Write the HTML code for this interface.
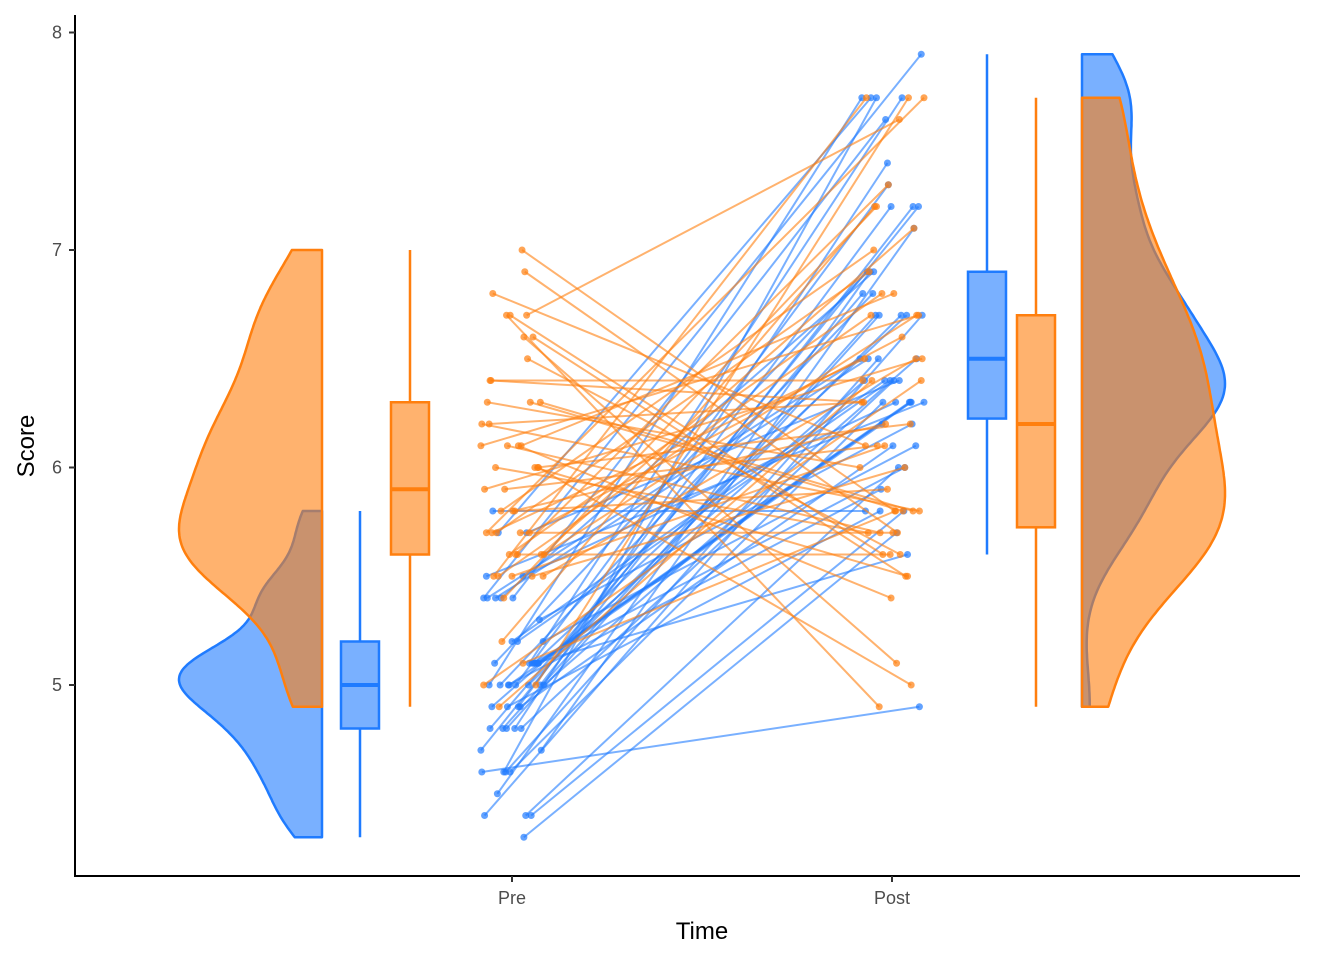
<!DOCTYPE html>
<html><head><meta charset="utf-8"><style>
html,body{margin:0;padding:0;background:#fff;}
svg{display:block;font-family:"Liberation Sans",Arial,sans-serif;}
</style></head><body>
<svg id="chart" width="1344" height="960" viewBox="0 0 1344 960">
<g id="plot"></g>
<line x1="75" y1="15" x2="75" y2="877" stroke="#000" stroke-width="2"/>
<line x1="74" y1="876" x2="1300" y2="876" stroke="#000" stroke-width="2"/>
<g id="axes"></g>
<text x="702" y="939" font-size="24" text-anchor="middle" fill="#000">Time</text>
<text transform="translate(34,446) rotate(-90)" font-size="24" text-anchor="middle" fill="#000">Score</text>
</svg>
<script>
const categories = ["Pre", "Post"];
const yTicks = [5, 6, 7, 8];
const bluePre = [5.1,4.9,4.7,4.6,5.0,5.4,4.6,5.0,4.4,4.9,5.4,4.8,4.8,4.3,5.8,5.7,5.4,5.1,5.7,5.1,5.4,5.1,4.6,5.1,4.8,5.0,5.0,5.2,5.2,4.7,4.8,5.4,5.2,5.5,4.9,5.0,5.5,4.9,4.4,5.1,5.0,4.5,4.4,5.0,5.1,4.8,5.1,4.6,5.3,5.0];
const bluePost = [6.3,5.8,7.1,6.3,6.5,7.6,4.9,7.3,6.7,7.2,6.5,6.4,6.8,5.7,5.8,6.4,6.5,7.7,7.7,6.0,6.9,5.6,7.7,6.3,6.7,7.2,6.2,6.1,6.4,7.2,7.4,7.9,6.4,6.3,6.1,7.7,6.3,6.4,6.0,6.9,6.7,6.9,5.8,6.8,6.7,6.7,6.3,6.5,6.2,5.9];
const orangePre = [7.0,6.4,6.9,5.5,6.5,5.7,6.3,4.9,6.6,5.2,5.0,5.9,6.0,6.1,5.6,6.7,5.6,5.8,6.2,5.6,5.9,6.1,6.3,6.1,6.4,6.6,6.8,6.7,6.0,5.7,5.5,5.5,5.8,6.0,5.4,6.0,6.7,6.3,5.6,5.5,5.5,6.1,5.8,5.0,5.6,5.7,5.7,6.2,5.1,5.7];
const orangePost = [5.8,6.3,5.7,7.7,5.6,6.9,5.8,6.4,5.5,7.2,7.7,6.1,5.0,5.7,7.1,5.6,6.7,6.2,5.8,7.3,6.5,5.4,6.0,6.8,6.4,5.1,6.1,7.6,5.7,6.6,6.7,6.0,7.0,5.5,7.2,6.2,4.9,5.8,6.8,6.5,6.1,6.7,5.9,6.4,5.6,7.7,5.7,6.3,5.8,6.5];

const BLUE="#1f7bff", ORANGE="#ff7f0e";
const NS="http://www.w3.org/2000/svg";
const plot=document.getElementById('plot'), axes=document.getElementById('axes');
const y=v=>685-(v-5)*217.5;
const xCat={Pre:512, Post:892};
function mk(tag,attrs,parent){const e=document.createElementNS(NS,tag);for(const k in attrs)e.setAttribute(k,attrs[k]);parent.appendChild(e);return e;}

yTicks.forEach(t=>{
  const l=mk('line',{x1:69,x2:75,y1:y(t),y2:y(t),stroke:'#333','stroke-width':2},axes);
  
  
  const tx=mk('text',{x:62,y:y(t)+6,'font-size':18,'text-anchor':'end',fill:'#4d4d4d'},axes);
  tx.textContent=t;
  
  
});
categories.forEach(c=>{
  const l=mk('line',{x1:xCat[c],x2:xCat[c],y1:876,y2:882,stroke:'#333','stroke-width':2},axes);
  
  
  const tx=mk('text',{x:xCat[c],y:904,'font-size':18,'text-anchor':'middle',fill:'#4d4d4d'},axes);
  tx.textContent=c;
  
  
});

function jit(i,s){return (((i*37+s*53+11)%71)/70)*64-32;}
function quant(a,p){const s=[...a].sort((x,z)=>x-z);const h=(s.length-1)*p,lo=Math.floor(h);return s[lo]+(h-lo)*((s[Math.min(lo+1,s.length-1)])-s[lo]);}
function sd(a){const m=a.reduce((s,v)=>s+v,0)/a.length;return Math.sqrt(a.reduce((s,v)=>s+(v-m)**2,0)/(a.length-1));}

[[bluePre,bluePost,BLUE,'blue',1],[orangePre,orangePost,ORANGE,'orange',2]].forEach(([pre,post,col,nm,s])=>{
  pre.forEach((v,i)=>{
    const x1=xCat.Pre+jit(i,s), x2=xCat.Post+jit(i+7,s+3);
    const l=mk('line',{x1:x1,y1:y(v),x2:x2,y2:y(post[i]),stroke:col,'stroke-opacity':0.6,'stroke-width':2},plot);
    
    
    const p1=mk('circle',{cx:x1,cy:y(v),r:3.5,fill:col,'fill-opacity':0.7},plot);
    
    
    const p2=mk('circle',{cx:x2,cy:y(post[i]),r:3.5,fill:col,'fill-opacity':0.7},plot);
    
    
  });
});

function box(data,cx,col,nm){
  const q1=quant(data,.25),q3=quant(data,.75),md=quant(data,.5),iqr=q3-q1;
  const lo=Math.min(...data.filter(v=>v>=q1-1.5*iqr)),hi=Math.max(...data.filter(v=>v<=q3+1.5*iqr));
  const g=mk('g',{},plot);
  
  
  mk('line',{x1:cx,x2:cx,y1:y(hi),y2:y(q3),stroke:col,'stroke-width':2.5},g);
  mk('line',{x1:cx,x2:cx,y1:y(q1),y2:y(lo),stroke:col,'stroke-width':2.5},g);
  mk('rect',{x:cx-19,y:y(q3),width:38,height:y(q1)-y(q3),fill:col,'fill-opacity':0.6,stroke:col,'stroke-width':2.5},g);
  mk('line',{x1:cx-19,x2:cx+19,y1:y(md),y2:y(md),stroke:col,'stroke-width':4},g);
}
function violin(data,x0,dir,col,nm){
  const n=data.length, s=sd(data), iqr=quant(data,.75)-quant(data,.25);
  const bw=0.9*Math.min(s,iqr/1.34)*Math.pow(n,-0.2);
  const mn=Math.min(...data),mx=Math.max(...data);
  const pts=[];let peak=0;
  for(let k=0;k<=200;k++){const v=mn+(mx-mn)*k/200;let d=0;data.forEach(u=>{d+=Math.exp(-0.5*((v-u)/bw)**2);});pts.push([v,d]);peak=Math.max(peak,d);}
  let dstr='M'+x0+','+y(mn);
  pts.forEach(([v,d])=>{dstr+=' L'+(x0+dir*d/peak*143).toFixed(1)+','+y(v).toFixed(1);});
  dstr+=' L'+x0+','+y(mx)+' Z';
  const p=mk('path',{d:dstr,fill:col,'fill-opacity':0.6,stroke:col,'stroke-width':2.5,'stroke-linejoin':'round'},plot);
  
  
}
box(bluePre,360,BLUE,'blue-pre-boxplot');
box(orangePre,410,ORANGE,'orange-pre-boxplot');
box(bluePost,987,BLUE,'blue-post-boxplot');
box(orangePost,1036,ORANGE,'orange-post-boxplot');
violin(bluePre,322,-1,BLUE,'blue-pre-density');
violin(orangePre,322,-1,ORANGE,'orange-pre-density');
violin(bluePost,1082,1,BLUE,'blue-post-density');
violin(orangePost,1082,1,ORANGE,'orange-post-density');
</script>
</body></html>
